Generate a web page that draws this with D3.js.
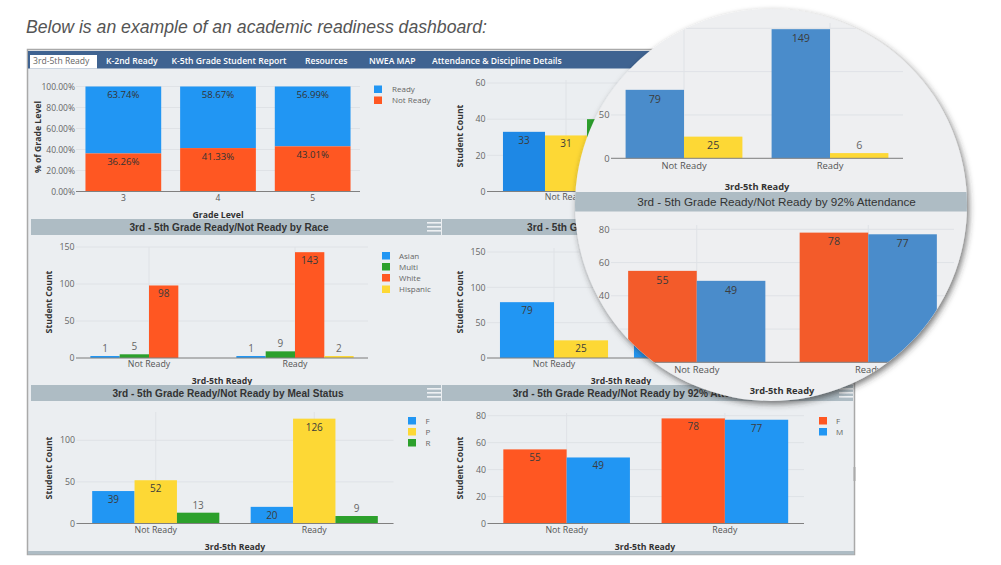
<!DOCTYPE html>
<html>
<head>
<meta charset="utf-8">
<script src="https://cdnjs.cloudflare.com/ajax/libs/d3/7.8.5/d3.min.js"></script>
<style>
  html, body { margin: 0; padding: 0; background: #fff; overflow: hidden; }
  text { font-family: "Open Sans", sans-serif; }
  .title { font-family: "Liberation Sans", sans-serif; fill: #333; }
</style>
</head>
<body>
<svg id="page" width="1001" height="565"></svg>
<script>
var BLUE = "#2196f3", DARK_BLUE = "#1e88e5", ORANGE = "#ff5722", GREEN = "#2ca02c", YELLOW = "#fdd835";
var LENS_BLUE = "#4a8ccb", LENS_ORANGE = "#f35b2a", HEADER = "#aebcc4";

// Values
var tabs = ["3rd-5th Ready", "K-2nd Ready", "K-5th Grade Student Report", "Resources", "NWEA MAP", "Attendance & Discipline Details"];
var tabX = [33, 106, 171.5, 305, 369, 432];
var readyCategories = ["Not Ready", "Ready"];

var gradeLevels = ["3", "4", "5"];
var gradeReady = [63.74, 58.67, 56.99];
var gradeNotReady = [36.26, 41.33, 43.01];
var gradeTicks = [0, 20, 40, 60, 80, 100];

var raceSeries = ["Asian", "Multi", "White", "Hispanic"];
var raceNotReady = [1, 5, 98, null];
var raceReady = [1, 9, 143, 2];

var mealSeries = ["F", "P", "R"];
var mealNotReady = [39, 52, 13];
var mealReady = [20, 126, 9];

var genderSeries = ["F", "M"];
var attendNotReady = [55, 49];
var attendReady = [78, 77];

var statusNotReady = [79, 25];
var statusReady = [149, 6];

var topNotReady = [33, 31, 40];

var svg = d3.select("#page");
var defs = svg.append("defs");
var shadow = defs.append("filter").attr("id", "lensShadow")
  .attr("x", "-10%").attr("y", "-10%").attr("width", "120%").attr("height", "120%");
shadow.append("feDropShadow").attr("dx", 2).attr("dy", 3).attr("stdDeviation", 3)
  .attr("flood-color", "#333").attr("flood-opacity", 0.65);
defs.append("clipPath").attr("id", "lensClip").append("circle")
  .attr("cx", 771).attr("cy", 205).attr("r", 196);

function groupedChart(root, c)
{
  var y = d3.scaleLinear().domain([0, c.yMax]).range([c.y0, c.yTop]);
  var x = d3.scaleBand().domain(c.categories).range([c.left, c.right]).padding(0);
  var inner = d3.scaleBand().domain(d3.range(c.colors.length))
    .range([0, x.bandwidth()]).paddingOuter(c.outer).paddingInner(0);
  var g = root.append("g").attr("font-size", c.font);
  // the parts hidden by the magnifier carry no labels
  var labelled = c.labelled === undefined ? c.categories.length : c.labelled;

  // grid
  g.selectAll(".gridY").data(c.ticks).enter().append("line")
    .attr("x1", c.left).attr("x2", c.gridRight || c.right)
    .attr("y1", function(t) { return y(t); }).attr("y2", function(t) { return y(t); })
    .attr("stroke", "#dfe2e6").attr("stroke-width", 1);
  g.selectAll(".gridX").data(c.categories).enter().append("line")
    .attr("x1", function(d) { return x(d) + x.bandwidth() / 2; })
    .attr("x2", function(d) { return x(d) + x.bandwidth() / 2; })
    .attr("y1", c.gridTop).attr("y2", c.y0)
    .attr("stroke", "#dfe2e6").attr("stroke-width", 1);

  g.selectAll(".tick").data(c.ticks).enter().append("text")
    .attr("x", c.left - 1.5).attr("y", function(t) { return y(t) + c.font * 0.36; })
    .attr("text-anchor", "end").attr("fill", "#666")
    .text(function(t) { return t; });

  // bars
  c.categories.forEach(function(cat, i) {
    c.values[i].forEach(function(v, s) {
      if(v === null) return;
      var bx = x(cat) + inner(s);
      var h = Math.max(c.y0 - y(v), 2);
      g.append("rect").attr("x", bx).attr("y", c.y0 - h)
        .attr("width", inner.bandwidth()).attr("height", h).attr("fill", c.colors[s]);
      if(i >= labelled) return;
      var tall = h >= 15;
      g.append("text").attr("x", bx + inner.bandwidth() / 2)
        .attr("y", tall ? c.y0 - h + c.valueFont + 2 : c.y0 - h - 4)
        .attr("text-anchor", "middle").attr("font-size", c.valueFont)
        .attr("fill", tall ? "#3c3c3c" : "#666")
        .text(v);
    });
  });

  // x axis
  g.append("line").attr("x1", c.left).attr("x2", c.gridRight || c.right)
    .attr("y1", c.y0).attr("y2", c.y0).attr("stroke", "#808080").attr("stroke-width", 1);
  g.selectAll(".catLabel").data(c.categories.slice(0, labelled)).enter().append("text")
    .attr("x", function(d) { return x(d) + x.bandwidth() / 2; })
    .attr("y", c.y0 + c.catDy)
    .attr("text-anchor", "middle").attr("fill", "#555")
    .text(function(d) { return d; });

  axisTitles(g, c);
}

function axisTitles(g, c)
{
  if(c.xTitle)
  {
    g.append("text").attr("x", c.xTitleX).attr("y", c.xTitleY).attr("text-anchor", "middle")
      .attr("font-weight", "bold").attr("font-size", c.titleFont).attr("fill", "#333").text(c.xTitle);
  }
  g.append("text")
    .attr("transform", "translate(" + c.yTitleX + "," + c.yTitleY + ") rotate(-90)")
    .attr("text-anchor", "middle").attr("font-weight", "bold").attr("font-size", c.titleFont).attr("fill", "#333")
    .text(c.yTitle);
}

function legend(root, items, colors, sx, tx, ys)
{
  items.forEach(function(name, i) {
    root.append("rect").attr("x", sx).attr("y", ys[i] - 4).attr("width", 8).attr("height", 7.5).attr("fill", colors[i]);
    root.append("text").attr("x", tx).attr("y", ys[i] + 2.5).attr("font-size", 8).attr("fill", "#666").text(name);
  });
}

function header(root, x1, x2, y1, y2, label, cx, size, weight)
{
  root.append("rect").attr("x", x1).attr("y", y1).attr("width", x2 - x1).attr("height", y2 - y1).attr("fill", HEADER);
  root.append("text").attr("class", "title").attr("x", cx).attr("y", (y1 + y2) / 2 + size * 0.36)
    .attr("text-anchor", "middle").attr("font-size", size).attr("font-weight", weight).text(label);
}

function burger(root, x, y)
{
  [0, 4, 8].forEach(function(d) {
    root.append("rect").attr("x", x).attr("y", y + d).attr("width", 14).attr("height", 1.6).attr("fill", "#eef1f3");
  });
}

// Page heading and frame
svg.append("text").attr("x", 26).attr("y", 33)
  .attr("font-size", 17.65).attr("font-style", "italic").attr("fill", "#555")
  .style("font-family", '"Liberation Sans", sans-serif')
  .text("Below is an example of an academic readiness dashboard:");

var base = svg.append("g");
base.append("rect").attr("x", 27.5).attr("y", 49.5).attr("width", 827).attr("height", 505)
  .attr("fill", "#ebeef1").attr("stroke", "#a9a9a9").attr("stroke-width", 1.5);
base.append("rect").attr("x", 28).attr("y", 51).attr("width", 826).attr("height", 17.5).attr("fill", "#3f6391");
base.append("rect").attr("x", 30).attr("y", 55).attr("width", 67).attr("height", 13.5).attr("fill", "#fff");
tabs.forEach(function(t, i) {
  base.append("text").attr("x", tabX[i]).attr("y", 64).attr("font-size", 8.6)
    .attr("font-weight", i === 0 ? "normal" : "600")
    .attr("fill", i === 0 ? "#666" : "#fff").text(t);
});
base.append("rect").attr("x", 28).attr("y", 551).attr("width", 826).attr("height", 3.5).attr("fill", HEADER);
base.append("rect").attr("x", 853.5).attr("y", 467).attr("width", 2).attr("height", 14).attr("fill", "#aaa");

// Stacked percent chart
(function() {
  var y = d3.scaleLinear().domain([0, 100]).range([191.5, 86.5]);
  var x = d3.scaleBand().domain(gradeLevels).range([76, 360]).paddingInner(0.2).paddingOuter(0.1);
  var g = base.append("g").attr("font-size", 8.5);
  g.selectAll(".grid").data(gradeTicks).enter().append("line")
    .attr("x1", 76).attr("x2", 360)
    .attr("y1", function(t) { return y(t); }).attr("y2", function(t) { return y(t); })
    .attr("stroke", "#dfe2e6");
  g.selectAll(".tick").data(gradeTicks).enter().append("text")
    .attr("x", 75).attr("y", function(t) { return y(t) + 3; })
    .attr("text-anchor", "end").attr("fill", "#666")
    .text(function(t) { return t.toFixed(2) + "%"; });
  gradeLevels.forEach(function(level, i) {
    g.append("rect").attr("x", x(level)).attr("y", y(100)).attr("width", x.bandwidth())
      .attr("height", y(gradeNotReady[i]) - y(100)).attr("fill", BLUE);
    g.append("rect").attr("x", x(level)).attr("y", y(gradeNotReady[i])).attr("width", x.bandwidth())
      .attr("height", y(0) - y(gradeNotReady[i])).attr("fill", ORANGE);
    g.append("text").attr("x", x(level) + x.bandwidth() / 2).attr("y", y(100) + 11.5)
      .attr("text-anchor", "middle").attr("font-size", 9.6).attr("fill", "#333").text(gradeReady[i].toFixed(2) + "%");
    g.append("text").attr("x", x(level) + x.bandwidth() / 2).attr("y", y(gradeNotReady[i]) + 11.5)
      .attr("text-anchor", "middle").attr("font-size", 9.6).attr("fill", "#333").text(gradeNotReady[i].toFixed(2) + "%");
    g.append("text").attr("x", x(level) + x.bandwidth() / 2).attr("y", 201)
      .attr("text-anchor", "middle").attr("fill", "#555").text(level);
  });
  g.append("line").attr("x1", 76).attr("x2", 360).attr("y1", 191.5).attr("y2", 191.5).attr("stroke", "#808080");
  axisTitles(g, { xTitle: "Grade Level", xTitleX: 218, xTitleY: 218, yTitle: "% of Grade Level", yTitleX: 41, yTitleY: 137, titleFont: 8.7 });
})();
legend(base, ["Ready", "Not Ready"], [BLUE, ORANGE], 374, 392, [89.5, 100.5]);

// Base panels
groupedChart(base, { categories: ["Not Ready"], values: [topNotReady], colors: [DARK_BLUE, YELLOW, GREEN],
  left: 487, right: 645, yMax: 60, y0: 191.5, yTop: 83, gridTop: 80, ticks: [0, 20, 40, 60], outer: 0.38,
  font: 8.8, valueFont: 10, titleFont: 8.7, catDy: 8.5,
  yTitle: "Student Count", yTitleX: 463, yTitleY: 136 });
groupedChart(base, { categories: readyCategories, values: [raceNotReady, raceReady], colors: [BLUE, GREEN, ORANGE, YELLOW],
  left: 76, right: 368, yMax: 150, y0: 358, yTop: 247, gridTop: 247, ticks: [0, 50, 100, 150], outer: 0.49,
  font: 8.8, valueFont: 10, titleFont: 8.7, catDy: 8.5,
  xTitle: "3rd-5th Ready", xTitleX: 222, xTitleY: 384, yTitle: "Student Count", yTitleX: 52, yTitleY: 302 });
groupedChart(base, { categories: readyCategories, values: [statusNotReady, statusReady], colors: [BLUE, YELLOW],
  left: 487, right: 755, yMax: 150, y0: 358, yTop: 252, gridTop: 248, ticks: [0, 50, 100, 150], outer: 0.24,
  font: 8.8, valueFont: 10, titleFont: 8.7, catDy: 8.5, labelled: 1,
  xTitle: "3rd-5th Ready", xTitleX: 621, xTitleY: 384, yTitle: "Student Count", yTitleX: 463, yTitleY: 302 });
groupedChart(base, { categories: readyCategories, values: [mealNotReady, mealReady], colors: [BLUE, YELLOW, GREEN],
  left: 76.5, right: 393.5, yMax: 150, y0: 523.5, yTop: 398.7, gridTop: 412, ticks: [0, 50, 100], outer: 0.37,
  font: 8.8, valueFont: 10, titleFont: 8.7, catDy: 9.5,
  xTitle: "3rd-5th Ready", xTitleX: 235, xTitleY: 550, yTitle: "Student Count", yTitleX: 52, yTitleY: 468 });
groupedChart(base, { categories: readyCategories, values: [attendNotReady, attendReady], colors: [ORANGE, BLUE],
  left: 487.5, right: 804, yMax: 80, y0: 523.5, yTop: 415.7, gridTop: 413, ticks: [0, 20, 40, 60, 80], outer: 0.25,
  font: 8.8, valueFont: 10, titleFont: 8.7, catDy: 9.5,
  xTitle: "3rd-5th Ready", xTitleX: 645, xTitleY: 550, yTitle: "Student Count", yTitleX: 463, yTitleY: 468 });

legend(base, raceSeries, [BLUE, GREEN, ORANGE, YELLOW], 382, 399, [256, 267, 278, 289.5]);
legend(base, mealSeries, [BLUE, YELLOW, GREEN], 408, 425.5, [421, 432, 443]);
legend(base, genderSeries, [ORANGE, BLUE], 819, 836, [421, 432]);

// Panel headers sit over the chart below them and cut its x title
header(base, 31, 441, 219, 235, "3rd - 5th Grade Ready/Not Ready by Race", 229, 10.1, "bold");
header(base, 442, 853, 219, 235, "3rd - 5th Grade", 563, 10.1, "bold");
header(base, 31, 441, 385, 401, "3rd - 5th Grade Ready/Not Ready by Meal Status", 228, 10.1, "bold");
header(base, 442, 853, 385, 401, "3rd - 5th Grade Ready/Not Ready by 92% Attendance", 639, 10.1, "bold");
burger(base, 427, 222);
burger(base, 427, 388);
burger(base, 839, 388);

// Magnifier
svg.append("circle").attr("cx", 771).attr("cy", 205).attr("r", 196)
  .attr("fill", "#eeeff1").attr("filter", "url(#lensShadow)");
var lens = svg.append("g").attr("clip-path", "url(#lensClip)");
groupedChart(lens, { categories: readyCategories, values: [statusNotReady, statusReady], colors: [LENS_BLUE, YELLOW],
  left: 611, right: 903, yMax: 150, y0: 158.3, yTop: 28.3, gridTop: 23, ticks: [0, 50, 100, 150], outer: 0.25,
  font: 9.4, valueFont: 10.7, titleFont: 9.3, catDy: 10.5,
  xTitle: "3rd-5th Ready", xTitleX: 757, xTitleY: 190, yTitle: "Student Count", yTitleX: 584, yTitleY: 100 });
groupedChart(lens, { categories: readyCategories, values: [attendNotReady, attendReady], colors: [LENS_ORANGE, LENS_BLUE],
  left: 611, right: 954, yMax: 80, y0: 362.3, yTop: 229.3, gridTop: 225, ticks: [0, 20, 40, 60, 80], outer: 0.25,
  font: 9.4, valueFont: 10.7, titleFont: 9.3, catDy: 11,
  xTitle: "3rd-5th Ready", xTitleX: 782, xTitleY: 394, yTitle: "Student Count", yTitleX: 584, yTitleY: 303 });
header(lens, 570, 975, 192, 211.5, "3rd - 5th Grade Ready/Not Ready by 92% Attendance", 776.5, 11.7, "normal");
</script>
</body>
</html>
